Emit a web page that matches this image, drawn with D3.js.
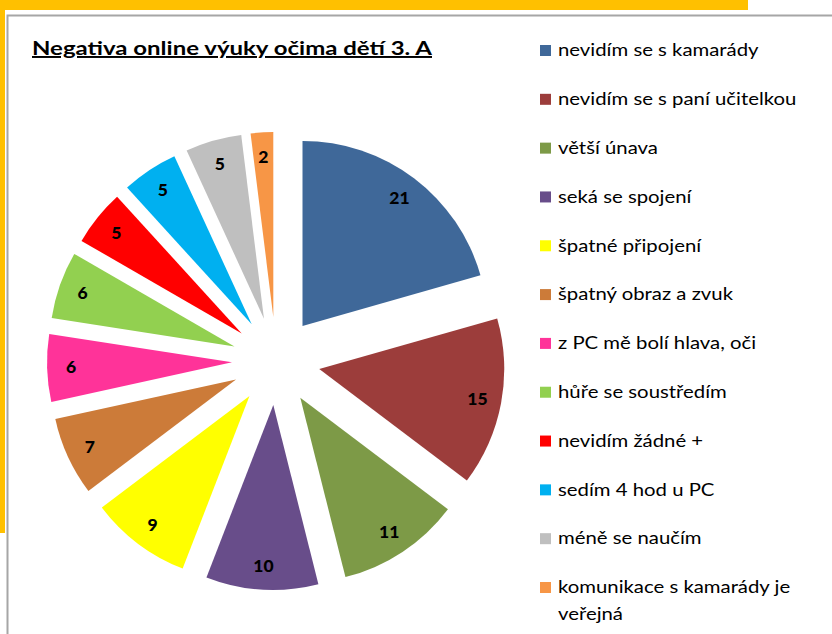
<!DOCTYPE html>
<html><head><meta charset="utf-8">
<script src="https://cdn.jsdelivr.net/npm/d3@7"></script>
<style>body{margin:0;background:#fff}svg{display:block}</style>
</head><body>
<script>
const categories = ["nevidím se s kamarády","nevidím se s paní učitelkou","větší únava","seká se spojení","špatné připojení","špatný obraz a zvuk","z PC mě bolí hlava, oči","hůře se soustředím","nevidím žádné +","sedím 4 hod u PC","méně se naučím","komunikace s kamarády je veřejná"];
const values = [21,15,11,10,9,7,6,6,5,5,5,2];
const colors = ["#3F6899","#9C3D3B","#7D9A47","#684D8A","#FFFF00","#CC7B39","#FF3399","#92D050","#FF0000","#00B0F0","#BFBFBF","#F79646"];
const title = "Negativa online výuky očima dětí 3. A";

const W=832,H=634;
const svg=d3.select("body").append("svg").attr("width",W).attr("height",H);
svg.append("rect").attr("x",0).attr("y",0).attr("width",748).attr("height",533).attr("fill","#FFC000");
svg.append("rect").attr("x",5).attr("y",10).attr("width",W).attr("height",H).attr("fill","#fff");
svg.append("rect").attr("x",7.5).attr("y",15.5).attr("width",W+20).attr("height",H+20).attr("fill","#fff").attr("stroke","#a6a6a6").attr("stroke-width",2);

const font="Lato, 'Open Sans', sans-serif";
svg.append("text").attr("x",32).attr("y",55).text(title)
  .attr("font-family",font).attr("font-weight","bold").attr("font-size",19.5)
  .attr("textLength",400).attr("lengthAdjust","spacingAndGlyphs")
  .attr("fill","#000").attr("text-decoration","underline");

const cx=276,cy=361,R=185,D=44;
const pie=d3.pie().sort(null).value(d=>d);
const arcs=pie(values);
const arc=d3.arc().innerRadius(0).outerRadius(R);
const g=svg.append("g").attr("transform",`translate(${cx},${cy})`);
const sl=g.selectAll("g.s").data(arcs).enter().append("g")
  .attr("transform",d=>{const m=(d.startAngle+d.endAngle)/2;return `translate(${D*Math.sin(m)},${-D*Math.cos(m)})`;});
sl.append("path").attr("d",arc).attr("fill",(d,i)=>colors[i]);
const labelArc=d3.arc().innerRadius(R*0.87).outerRadius(R*0.87);
sl.append("text").attr("transform",d=>`translate(${labelArc.centroid(d)})`)
  .attr("text-anchor","middle").attr("dy","0.35em")
  .attr("font-family",font).attr("font-weight","900").attr("font-size",17.5).attr("fill","#000")
  .text(d=>d.data);

const lg=svg.append("g");
const ly=d3.scaleLinear().domain([0,11]).range([50,587]);
categories.forEach((c,i)=>{
  const y=ly(i);
  lg.append("rect").attr("x",540).attr("y",y-5).attr("width",11).attr("height",11).attr("fill",colors[i]);
  const t=lg.append("text").attr("transform",`translate(558,${y}) scale(1.13,1)`).attr("dy","0.35em")
    .attr("font-family",font).attr("font-size",18).attr("fill","#000");
  if(i===11){
    t.append("tspan").attr("x",0).text("komunikace s kamarády je");
    t.append("tspan").attr("x",0).attr("dy","1.5em").text("veřejná");
  } else t.text(c);
});
</script>
</body></html>
